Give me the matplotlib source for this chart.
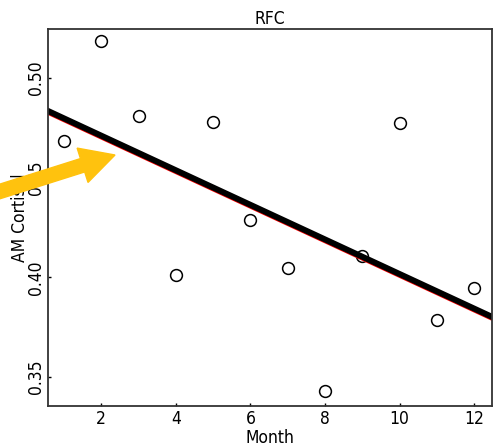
import numpy as np
import matplotlib
matplotlib.use("Agg")
import matplotlib.pyplot as plt
import matplotlib.transforms as mtransforms
from matplotlib.patches import FancyArrow
from matplotlib import font_manager

# tall narrow lettering like the reference; fall back to condensed DejaVu
installed = {f.name for f in font_manager.fontManager.ttflist}
if "Liberation Sans Narrow" in installed:
    plt.rcParams["font.family"] = ["Liberation Sans Narrow", "DejaVu Sans"]
    fs = 14
else:
    plt.rcParams["font.family"] = ["DejaVu Sans"]
    plt.rcParams["font.stretch"] = "condensed"
    fs = 12.5

# monthly AM cortisol values
months = [1, 2, 3, 4, 5, 6, 7, 8, 9, 10, 11, 12]
cortisol = [0.4685, 0.5185, 0.481, 0.401, 0.478, 0.4285,
            0.4045, 0.343, 0.4105, 0.4775, 0.3785, 0.3945]
xticks = [2, 4, 6, 8, 10, 12]
yticks = [0.35, 0.40, 0.45, 0.50]

fig = plt.figure(figsize=(5.00, 4.47), dpi=100)
ax = fig.add_axes([0.096, 0.092, 0.888, 0.843])

ax.plot(months, cortisol, linestyle="none", marker="o", markersize=8.5,
        markerfacecolor="none", markeredgecolor="black", markeredgewidth=1.1)

# least squares fit, red copy sits just under the thick black one
slope, icpt = np.polyfit(months, cortisol, 1)
xlim = (0.57, 12.48)
fx = np.array(xlim)
below = mtransforms.offset_copy(ax.transData, fig=fig, x=0, y=-3.3, units="dots")
ax.plot(fx, icpt + slope * fx, color="red", linewidth=1.0, transform=below)
ax.plot(fx, icpt + slope * fx, color="black", linewidth=4.3)

ax.set_xlim(*xlim)
ax.set_ylim(0.3355, 0.5245)
ax.set_xticks(xticks)
ax.set_yticks(yticks)
ax.set_yticklabels(["%.2f" % v for v in yticks], rotation=90, va="center")
ax.tick_params(direction="in", length=2, width=1, labelsize=fs)
ax.tick_params(axis="x", pad=3)
ax.tick_params(axis="y", pad=2)

for s in ax.spines.values():
    s.set_color("#333333")
    s.set_linewidth(1.3)

ax.set_title("RFC", fontsize=fs, pad=3.5)
ax.set_xlabel("Month", fontsize=fs, labelpad=1)
ax.set_ylabel("AM Cortisol", fontsize=fs, labelpad=-1.5)

# yellow pointer arrow (pixel coordinates)
arrow = FancyArrow(-5, 254, 120, 38, width=14, head_width=36, head_length=34,
                   length_includes_head=True, color="#FFC20E",
                   transform=None, zorder=10)
fig.add_artist(arrow)

fig.savefig("out.png", dpi=100)
